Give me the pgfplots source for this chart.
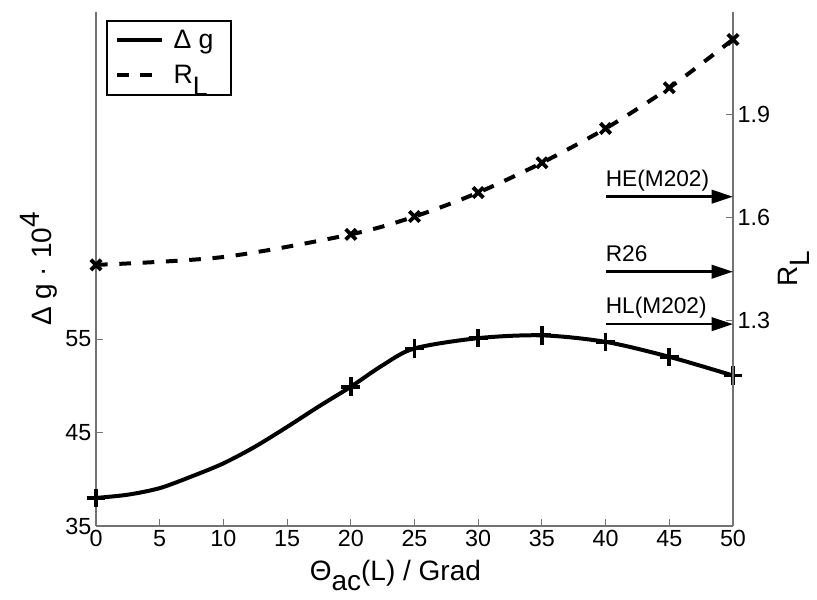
\documentclass[border=0pt]{standalone}
\usepackage{fontspec}
\setmainfont{Liberation Sans}
\usepackage{pgfplots}
\pgfplotsset{compat=1.18}
\usetikzlibrary{arrows.meta,calc}
\definecolor{axgray}{gray}{0.45}

\begin{document}
\begin{tikzpicture}
\pgfplotsset{
  every axis/.append style={
    font=\fontsize{17.5}{20}\selectfont,
    scale only axis, width=477.75pt, height=385.5pt,
    xmin=0, xmax=50,
    /pgf/number format/assume math mode=true,
    axis line style={axgray, line width=0.8pt},
    tick style={axgray, line width=0.8pt},
    major tick length=5pt,
  },
}
% left axis: delta g
\begin{axis}[
  name=ax,
  axis x line*=bottom, axis y line*=left,
  tick align=inside,
  ymin=35, ymax=90,
  xtick={0,5,...,50}, ytick={35,45,55},
  xlabel={Θ\raisebox{-0.35em}{ac}(L) / Grad},
  ylabel={Δ g · 10\raisebox{0.45em}{4}},
  xlabel style={font=\fontsize{21}{24}\selectfont, at={(axis description cs:0.47,0)}, anchor=base, yshift=-41pt},
  ylabel style={font=\fontsize{21}{24}\selectfont, at={(axis description cs:0,0.5)}, anchor=base, yshift=33pt},
]
  % curve
  \addplot[black, line width=3pt, smooth] coordinates {
    (0,38.0) (2.5,38.35) (5,39.05) (7.5,40.3) (10,41.7) (12.5,43.5)
    (15,45.6) (17.5,47.8) (20,49.9) (22.5,52.2) (25,54.0) (30,55.1) (35,55.4)
    (40,54.7) (45,53.1) (50,51.1)};
  % computed points
  \addplot[black, only marks, mark=+, mark size=7pt, mark options={line width=2.8pt}] coordinates {
    (0,38.0) (20,49.9) (25,54.0) (30,55.1) (35,55.4) (40,54.7) (45,53.1) (50,51.1)};
\end{axis}

% right axis: R_L
\begin{axis}[
  axis x line=none, axis y line*=right,
  tick align=inside,
  ymin=0.7, ymax=2.2,
  ytick={1.3,1.6,1.9},
  yticklabel style={/pgf/number format/.cd, fixed, precision=1},
  ylabel={R\raisebox{-0.45em}{L}},
  ylabel style={font=\fontsize{21}{24}\selectfont, at={(axis description cs:1,0.5)}, anchor=base, yshift=-48pt},
  legend style={at={(0.016,0.984)}, anchor=north west, draw=black, line width=1pt,
    font=\fontsize{20}{22}\selectfont, row sep=7pt, inner xsep=6pt, inner ysep=5pt,
    nodes={inner xsep=7pt, inner ysep=2pt}},
  legend cell align=left,
  legend image code/.code={\draw[#1] (0pt,0pt) -- (34pt,0pt);},
]
  \addlegendimage{black, line width=3pt}
  \addlegendentry{Δ g}
  \addplot[black, line width=3pt, dash pattern=on 8.75pt off 8.75pt, smooth] coordinates {
    (0,1.462) (10,1.485) (20,1.551) (25,1.603) (30,1.673) (35,1.760)
    (40,1.860) (45,1.979) (50,2.120)};
  \addlegendentry{R\raisebox{-0.45em}{L}}
  \addplot[black, only marks, mark=x, mark size=5.5pt, mark options={line width=2.8pt}, forget plot] coordinates {
    (0,1.462) (20,1.551) (25,1.603) (30,1.673) (35,1.760) (40,1.860) (45,1.979) (50,2.120)};
  % reference marks on the right axis
  \addplot[black, line width=2pt, -{Triangle[length=16pt, width=10pt]}, forget plot] coordinates {(40,1.661) (50,1.661)};
  \addplot[black, line width=2pt, -{Triangle[length=16pt, width=10pt]}, forget plot] coordinates {(40,1.442) (50,1.442)};
  \addplot[black, line width=2pt, -{Triangle[length=16pt, width=10pt]}, forget plot] coordinates {(40,1.289) (50,1.289)};
  \node[anchor=base west, inner sep=0pt, yshift=8pt, font=\fontsize{17}{19}\selectfont] at (axis cs:40,1.661) {HE(M202)};
  \node[anchor=base west, inner sep=0pt, yshift=8pt, font=\fontsize{17}{19}\selectfont] at (axis cs:40,1.442) {R26};
  \node[anchor=base west, inner sep=0pt, yshift=8pt, font=\fontsize{17}{19}\selectfont] at (axis cs:40,1.289) {HL(M202)};
\end{axis}
\pgfresetboundingbox
\path ($(ax.south west)+(-72pt,-55pt)$) rectangle ($(ax.north east)+(63pt,9pt)$);
\end{tikzpicture}
\end{document}
